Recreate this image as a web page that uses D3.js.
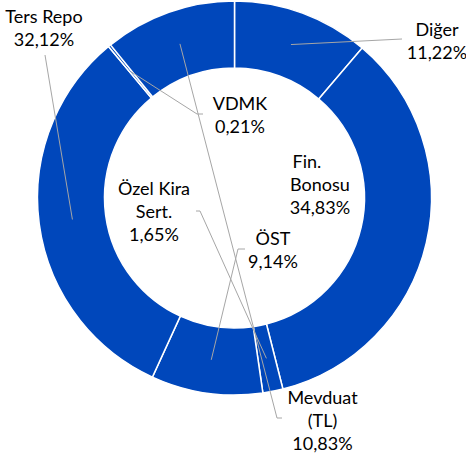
<!DOCTYPE html>
<html>
<head>
<meta charset="utf-8">
<script src="https://cdn.jsdelivr.net/npm/d3@7"></script>
<style>
  html, body { margin: 0; padding: 0; background: #ffffff; }
  svg { display: block; }
</style>
</head>
<body>
<svg id="chart" width="466" height="459"></svg>
<script>
// ---- data (clockwise from 12 o'clock) ----
const categories = ["Diğer", "Fin. Bonosu", "Özel Kira Sert.", "ÖST", "Ters Repo", "VDMK", "Mevduat (TL)"];
const values = [11.22, 34.83, 1.65, 9.14, 32.12, 0.21, 10.83];
const valueLabels = ["11,22%", "34,83%", "1,65%", "9,14%", "32,12%", "0,21%", "10,83%"];
const labelLines = [
  ["Diğer"],
  ["Fin.", "Bonosu"],
  ["Özel Kira", "Sert."],
  ["ÖST"],
  ["Ters Repo"],
  ["VDMK"],
  ["Mevduat", "(TL)"]
];

// ---- layout ----
const cx = 234.5, cy = 198;
const outerR = 197, innerR = 130;
const lineH = 23;
const fontSize = 18;
// label block: center x, first baseline, optional per-line x offsets, leader elbow points (label side)
const labelLayout = {
  "Diğer":           { x: 437, y: 36,  leader: [[402, 39]] },
  "Fin. Bonosu":     { x: 320, y: 168, dx: [-13, 0, 0], leader: null },
  "Özel Kira Sert.": { x: 154, y: 195, leader: [[200, 211], [196, 211]] },
  "ÖST":             { x: 273, y: 245, leader: [[238, 249], [245, 249]] },
  "Ters Repo":       { x: 44,  y: 23,  leader: [[45, 55]] },
  "VDMK":            { x: 240, y: 110, leader: [[197, 114], [203, 114]] },
  "Mevduat (TL)":    { x: 322.5, y: 404, leader: [[277, 418], [282, 418]] }
};

const color = "#0047BB";

const svg = d3.select("#chart");
const g = svg.append("g").attr("transform", `translate(${cx},${cy})`);

const data = categories.map((c, i) => ({ name: c, value: values[i], label: valueLabels[i], lines: labelLines[i] }));

const pie = d3.pie().sort(null).value(d => d.value).startAngle(0).endAngle(2 * Math.PI);
const arc = d3.arc().innerRadius(innerR).outerRadius(outerR);
const arcs = pie(data);

g.selectAll("path.slice")
  .data(arcs)
  .join("path")
  .attr("class", "slice")
  .attr("d", arc)
  .attr("fill", color)
  .attr("stroke", "#ffffff")
  .attr("stroke-width", 1.5);

// leader lines: from slice centroid to label elbow
const line = d3.line();
arcs.forEach(a => {
  const L = labelLayout[a.data.name];
  if (!L.leader) return;
  const c = arc.centroid(a);
  const pts = [[c[0] + cx, c[1] + cy]].concat(L.leader);
  svg.append("path")
    .attr("d", line(pts))
    .attr("fill", "none")
    .attr("stroke", "#A6A6A6")
    .attr("stroke-width", 1);
});

// labels
arcs.forEach(a => {
  const L = labelLayout[a.data.name];
  const allLines = a.data.lines.concat([a.data.label]);
  const t = svg.append("text")
    .attr("text-anchor", "middle")
    .attr("font-family", "Lato, 'Open Sans', sans-serif")
    .attr("font-size", fontSize)
    .attr("fill", "#000000");
  allLines.forEach((s, i) => {
    t.append("tspan")
      .attr("x", L.x + (L.dx ? (L.dx[i] || 0) : 0))
      .attr("y", L.y + i * lineH)
      .text(s);
  });
});
</script>
</body>
</html>
